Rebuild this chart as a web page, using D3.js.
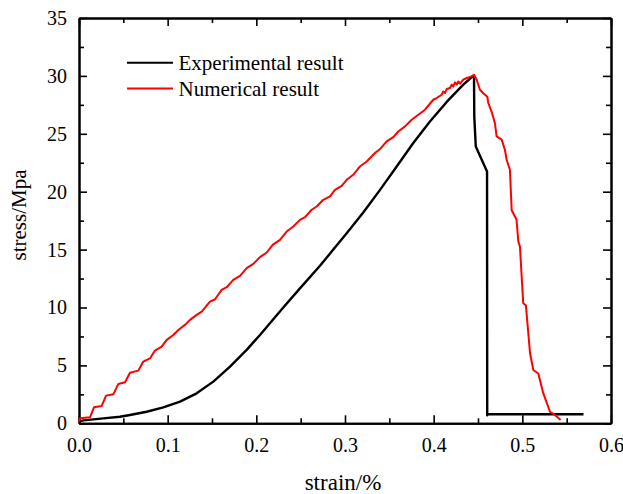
<!DOCTYPE html>
<html><head><meta charset="utf-8">
<script src="https://cdn.jsdelivr.net/npm/d3@7"></script>
<style>body{margin:0;background:#fff}svg{display:block}text{font-family:"Liberation Serif","Times New Roman",serif;fill:#000}</style>
</head><body><svg id="c" width="623" height="494"></svg>
<script>
const xTicks = [0.0, 0.1, 0.2, 0.3, 0.4, 0.5, 0.6];
const xTickLabels = ["0.0","0.1","0.2","0.3","0.4","0.5","0.6"];
const yTicks = [0, 5, 10, 15, 20, 25, 30, 35];
const seriesNames = ["Experimental result", "Numerical result"];

const expStrain = [0.0, 0.005, 0.0274, 0.0462, 0.0575, 0.0763, 0.0951, 0.1139, 0.1327, 0.1515, 0.1703, 0.1891, 0.2041, 0.2304, 0.2492, 0.2718, 0.2868, 0.3019, 0.3206, 0.3395, 0.3583, 0.377, 0.3958, 0.4147, 0.4334, 0.444, 0.4455, 0.4458, 0.4475, 0.4602, 0.4604, 0.4604, 0.569];
const expStress = [0.15, 0.25, 0.43, 0.57, 0.72, 1.0, 1.38, 1.87, 2.59, 3.6, 4.89, 6.34, 7.63, 10.0, 11.65, 13.6, 15.0, 16.42, 18.2, 20.16, 22.18, 24.2, 26.07, 27.75, 29.24, 29.96, 30.0, 26.5, 23.9, 21.75, 0.7, 0.78, 0.78];

const numStrain = [0.0, 0.001, 0.0124, 0.0169, 0.0256, 0.0305, 0.0387, 0.0444, 0.0519, 0.0575, 0.0669, 0.0725, 0.08, 0.0857, 0.0932, 0.0989, 0.1064, 0.112, 0.1195, 0.1252, 0.1327, 0.1384, 0.1477, 0.1534, 0.1609, 0.1666, 0.174, 0.1816, 0.1891, 0.1966, 0.2041, 0.2117, 0.2184, 0.2267, 0.2342, 0.2417, 0.2492, 0.2549, 0.2624, 0.2681, 0.2755, 0.2831, 0.2887, 0.2963, 0.3019, 0.3093, 0.3169, 0.3245, 0.3338, 0.3395, 0.347, 0.3545, 0.3601, 0.3677, 0.3752, 0.3827, 0.3902, 0.3996, 0.4034, 0.409, 0.4108, 0.4128, 0.4147, 0.4184, 0.4203, 0.4222, 0.424, 0.426, 0.4278, 0.4297, 0.4334, 0.4373, 0.441, 0.4455, 0.4485, 0.4522, 0.456, 0.4605, 0.4616, 0.4654, 0.4691, 0.471, 0.4767, 0.4804, 0.4823, 0.486, 0.488, 0.4934, 0.4955, 0.4973, 0.501, 0.504, 0.5087, 0.5124, 0.518, 0.5236, 0.5312, 0.5368, 0.5432];
const numStress = [0.14, 0.43, 0.52, 1.38, 1.5, 2.39, 2.5, 3.4, 3.54, 4.37, 4.55, 5.33, 5.6, 6.28, 6.62, 7.2, 7.63, 8.06, 8.5, 8.93, 9.36, 9.65, 10.51, 10.71, 11.52, 11.75, 12.39, 12.73, 13.4, 13.77, 14.35, 14.75, 15.41, 15.84, 16.56, 16.99, 17.57, 17.8, 18.44, 18.72, 19.3, 19.59, 20.16, 20.51, 21.03, 21.46, 22.18, 22.61, 23.34, 23.68, 24.34, 24.72, 25.2, 25.64, 26.21, 26.65, 27.08, 27.94, 28.09, 28.37, 28.66, 28.52, 28.87, 28.95, 29.24, 29.09, 29.44, 29.24, 29.52, 29.33, 29.67, 29.82, 29.9, 30.1, 29.67, 28.8, 28.5, 28.2, 27.66, 26.9, 25.9, 24.77, 24.5, 23.6, 22.76, 21.9, 18.4, 17.6, 15.7, 15.26, 10.37, 10.2, 6.05, 4.6, 4.3, 2.6, 1.0, 0.72, 0.29];

const svg = d3.select("#c");
const L = 79, R = 611, T = 18, B = 423.3;
const x = d3.scaleLinear().domain([0, 0.6]).range([L, R]);
const y = d3.scaleLinear().domain([0, 35]).range([B, T]);

const xMinor = d3.range(0.05, 0.6, 0.1);
const yMinor = d3.range(2.5, 35, 5);

// axes
svg.append("g").attr("transform", `translate(0,${B})`)
  .call(d3.axisBottom(x).tickValues(xTicks).tickFormat((d,i)=>xTickLabels[i]).tickSizeInner(-8).tickSizeOuter(0).tickPadding(15));
svg.append("g").attr("transform", `translate(0,${T})`)
  .call(d3.axisTop(x).tickValues(xTicks).tickFormat("").tickSizeInner(-8).tickSizeOuter(0));
svg.append("g").attr("transform", `translate(${L},0)`)
  .call(d3.axisLeft(y).tickValues(yTicks).tickFormat(d3.format("d")).tickSizeInner(-8).tickSizeOuter(0).tickPadding(12));
svg.append("g").attr("transform", `translate(${R},0)`)
  .call(d3.axisRight(y).tickValues(yTicks).tickFormat("").tickSizeInner(-8).tickSizeOuter(0));
svg.append("g").attr("transform", `translate(0,${B})`).call(d3.axisBottom(x).tickValues(xMinor).tickFormat("").tickSizeInner(-5).tickSizeOuter(0));
svg.append("g").attr("transform", `translate(0,${T})`).call(d3.axisTop(x).tickValues(xMinor).tickFormat("").tickSizeInner(-5).tickSizeOuter(0));
svg.append("g").attr("transform", `translate(${L},0)`).call(d3.axisLeft(y).tickValues(yMinor).tickFormat("").tickSizeInner(-5).tickSizeOuter(0));
svg.append("g").attr("transform", `translate(${R},0)`).call(d3.axisRight(y).tickValues(yMinor).tickFormat("").tickSizeInner(-5).tickSizeOuter(0));
svg.selectAll(".domain").attr("stroke", "#000").attr("stroke-width", 2);
svg.selectAll(".tick line").attr("stroke", "#000").attr("stroke-width", 1.6);
svg.selectAll(".tick text").style("font-family", '"Liberation Serif", serif').style("font-size", "20px").attr("fill", "#000");

const line = d3.line().x(d => x(d[0])).y(d => y(d[1]));
const expData = expStrain.map((s,i)=>[s, expStress[i]]);
const numData = numStrain.map((s,i)=>[s, numStress[i]]);
svg.append("path").datum(expData).attr("d", line).attr("fill","none").attr("stroke","#000").attr("stroke-width",2.4).attr("stroke-linejoin","round");
svg.append("path").datum(numData).attr("d", line).attr("fill","none").attr("stroke","#ff0000").attr("stroke-width",2).attr("stroke-linejoin","round");

// legend
const colors = ["#000", "#ff0000"];
seriesNames.forEach((n, i) => {
  const ly = 62.7 + i * 25.8;
  svg.append("line").attr("x1",127).attr("x2",173).attr("y1",ly).attr("y2",ly).attr("stroke",colors[i]).attr("stroke-width",2);
  svg.append("text").attr("x",178.5).attr("y",ly+7).style("font-size","21px").text(n);
});

// axis titles
svg.append("text").attr("x", 343).attr("y", 490).attr("text-anchor","middle").style("font-size","23px").text("strain/%");
svg.append("text").attr("transform","translate(26,215) rotate(-90)").attr("text-anchor","middle").style("font-size","21px").text("stress/Mpa");
</script></body></html>
